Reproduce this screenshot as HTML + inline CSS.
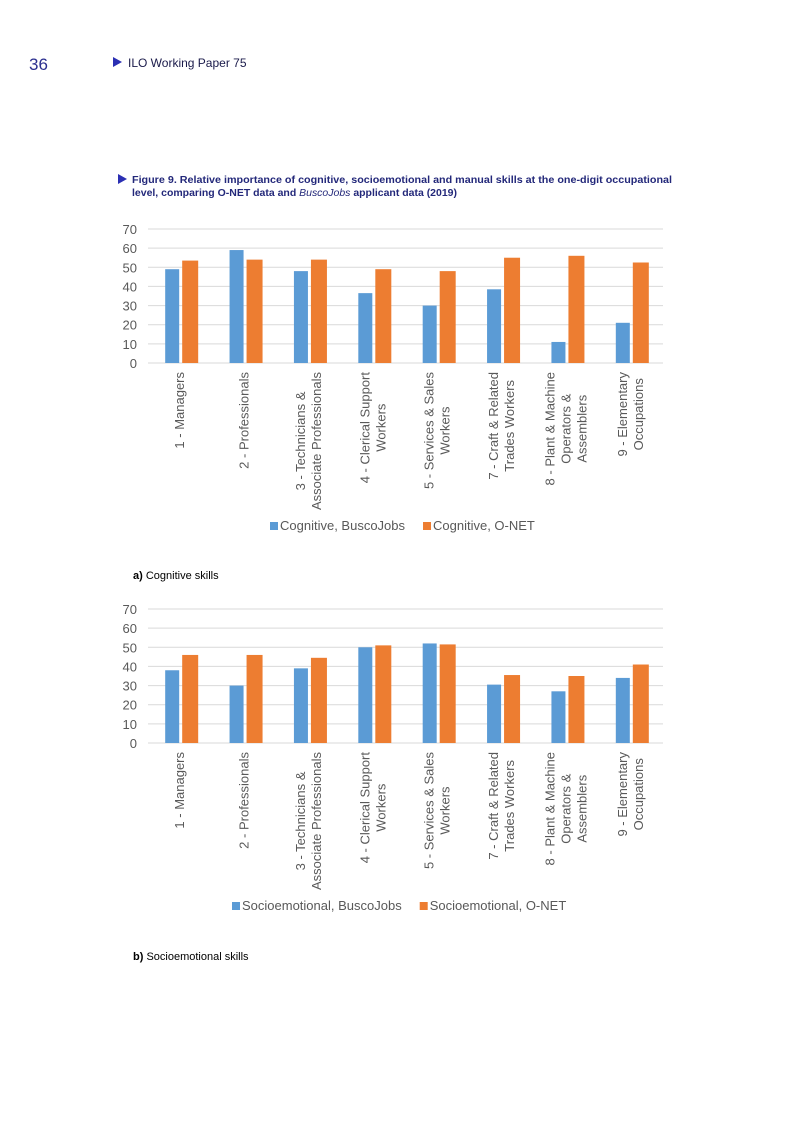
<!DOCTYPE html>
<html><head><meta charset="utf-8">
<style>
html,body{margin:0;padding:0;background:#fff;}
body{width:793px;height:1122px;position:relative;overflow:hidden;font-family:"Liberation Sans",sans-serif;}
svg{position:absolute;left:0;top:0;}
</style></head>
<body>
<svg id="page" width="793" height="1122" viewBox="0 0 793 1122">
  <text x="29" y="70" font-size="17" fill="#2b2f8f">36</text>
  <polygon points="113,57 113,67 122,62" fill="#2b2fb3"/>
  <text x="128" y="67" font-size="12" fill="#1a1a4a" font-family="Liberation Sans Narrow, Liberation Sans, sans-serif">ILO Working Paper 75</text>
  <polygon points="118,174 118,184 127,179" fill="#2b2fb3"/>
  <text x="132" y="183" font-size="10.5" font-weight="bold" fill="#23287a" textLength="540" lengthAdjust="spacingAndGlyphs">Figure 9. Relative importance of cognitive, socioemotional and manual skills at the one-digit occupational</text>
  <text x="132" y="196" font-size="10.5" font-weight="bold" fill="#23287a" textLength="325" lengthAdjust="spacingAndGlyphs">level, comparing O-NET data and <tspan font-style="italic" font-weight="normal">BuscoJobs</tspan> applicant data (2019)</text>
  <text x="133" y="579" font-size="11" fill="#000"><tspan font-weight="bold">a)</tspan>  Cognitive skills</text>
  <text x="133" y="960" font-size="11" fill="#000"><tspan font-weight="bold">b)</tspan>  Socioemotional skills</text>
  <g id="chart1"></g>
  <g id="chart2"></g>
</svg>
<script>
const categories = [["1 - Managers"],["2 - Professionals"],["3 - Technicians &","Associate Professionals"],["4 - Clerical Support","Workers"],["5 - Services & Sales","Workers"],["7 - Craft & Related","Trades Workers"],["8 - Plant & Machine","Operators &","Assemblers"],["9 - Elementary","Occupations"]];
const yTicks = [0,10,20,30,40,50,60,70];
const cogBusco = [49,59,48,36.5,30,38.5,11,21];
const cogOnet = [53.5,54,54,49,48,55,56,52.5];
const socBusco = [38,30,39,50,52,30.5,27,34];
const socOnet = [46,46,44.5,51,51.5,35.5,35,41];
const seriesNames1 = ["Cognitive, BuscoJobs","Cognitive, O-NET"];
const seriesNames2 = ["Socioemotional, BuscoJobs","Socioemotional, O-NET"];

const NS = "http://www.w3.org/2000/svg";
function mk(tag, attrs, parent){const e=document.createElementNS(NS,tag);for(const k in attrs)e.setAttribute(k,attrs[k]);parent.appendChild(e);return e;}

function drawChart(g, y0, blue, orange, names, legX){
  const x0=148, x1=663, yTop=y0-134;
  const yScale=v=>y0-(v/70)*(y0-yTop);
  const band=(x1-x0)/categories.length;
  const xc=i=>x0+band*(i+0.5);
  yTicks.forEach(t=>{
    const l=mk("line",{x1:x0,x2:x1,y1:yScale(t),y2:yScale(t),stroke:"#d9d9d9","stroke-width":1},g);
    
    
    const tx=mk("text",{x:137,y:yScale(t)+5,"text-anchor":"end","font-size":13,fill:"#595959"},g);
    tx.textContent=t;
    
    
  });
  categories.forEach((c,i)=>{
    const b=mk("rect",{x:xc(i)-15,y:yScale(blue[i]),width:14,height:yScale(0)-yScale(blue[i]),fill:"#5b9bd5"},g);
    
    
    const o=mk("rect",{x:xc(i)+2,y:yScale(orange[i]),width:16,height:yScale(0)-yScale(orange[i]),fill:"#ed7d31"},g);
    
    
    const n=c.length;
    const els=c.map((s,k)=>{
      const bx=xc(i)+4+(k-(n-1)/2)*16;
      const t=mk("text",{"font-size":13,fill:"#595959","text-anchor":"middle"},g);
      t.textContent=s;
      
      
      return [t,bx];
    });
    const maxLen=Math.max(...els.map(([t])=>t.getComputedTextLength()));
    const cy=y0+9+maxLen/2;
    els.forEach(([t,bx])=>t.setAttribute("transform",`translate(${bx},${cy}) rotate(-90)`));
  });
  const ly=y0+167;
  const cols=["#5b9bd5","#ed7d31"];
  let lx=legX;
  names.forEach((nm,k)=>{
    const r=mk("rect",{x:lx,y:ly-8,width:8,height:8,fill:cols[k]},g);
    
    
    const t=mk("text",{x:lx+10,y:ly,"font-size":13,fill:"#595959"},g);
    t.textContent=nm;
    
    
    lx+=t.getComputedTextLength()+28;
  });
}
drawChart(document.getElementById("chart1"),363,cogBusco,cogOnet,seriesNames1,270);
drawChart(document.getElementById("chart2"),743,socBusco,socOnet,seriesNames2,232);
</script>
</body></html>
